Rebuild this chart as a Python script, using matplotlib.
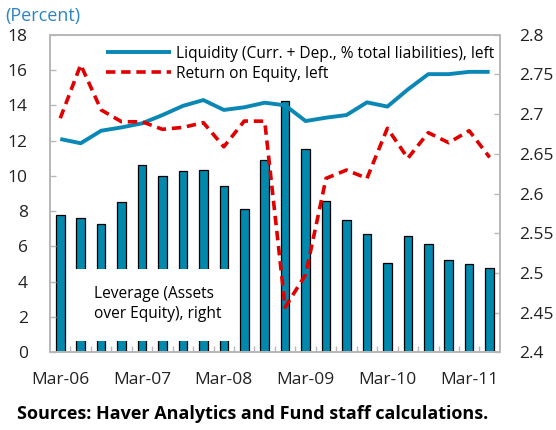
import numpy as np
import matplotlib
matplotlib.use("Agg")
import matplotlib.pyplot as plt
from matplotlib.patches import Rectangle
from matplotlib.ticker import FixedLocator, FuncFormatter

#quarterly data, Mar-06 to Jun-11
quarters = ["Mar-06", "Jun-06", "Sep-06", "Dec-06",
            "Mar-07", "Jun-07", "Sep-07", "Dec-07",
            "Mar-08", "Jun-08", "Sep-08", "Dec-08",
            "Mar-09", "Jun-09", "Sep-09", "Dec-09",
            "Mar-10", "Jun-10", "Sep-10", "Dec-10",
            "Mar-11", "Jun-11"]

#leverage, right axis
leverage = [2.573, 2.569, 2.562, 2.589, 2.636, 2.622, 2.628, 2.630,
            2.609, 2.581, 2.642, 2.717, 2.656, 2.591, 2.566, 2.549,
            2.513, 2.546, 2.536, 2.516, 2.511, 2.506]

#liquidity and ROE, left axis (percent)
liquidity = [12.09, 11.85, 12.56, 12.75, 12.98, 13.45, 13.97, 14.3,
             13.74, 13.89, 14.15, 14.0, 13.11, 13.3, 13.45, 14.17,
             13.93, 14.9, 15.77, 15.77, 15.9, 15.9]
roe = [13.27, 16.3, 13.74, 13.07, 13.07, 12.64, 12.75, 13.02,
       11.65, 13.11, 13.1, 2.55, 4.4, 9.86, 10.33, 9.86,
       12.7, 11.0, 12.45, 11.88, 12.56, 11.05]

plt.rcParams["font.family"] = ["Open Sans", "DejaVu Sans"]

fig = plt.figure(figsize=(5.56, 4.30), dpi=100)
ax = fig.add_axes([0.09, 0.181, 0.809, 0.738])
ax2 = ax.twinx()

x = np.arange(len(quarters))
grey = "#b8b8b8"

#bars on the right axis
ax2.bar(x, np.array(leverage) - 2.4, width=0.42, bottom=2.4, color="#0088ad",
        edgecolor="black", linewidth=0.9, zorder=2)
ax2.set_ylim(2.4, 2.8)
ax2.set_yticks(np.arange(2.4, 2.8001, 0.05))
ax2.yaxis.set_major_formatter(FuncFormatter(lambda v, p: f"{v:g}"))

#lines on the left axis, drawn over the bars
ax.set_zorder(ax2.get_zorder() + 1)
ax.patch.set_visible(False)
ax.plot(x, liquidity, color="#0b87b5", linewidth=2.8, solid_capstyle="butt",
        label="Liquidity (Curr. + Dep., % total liabilities), left", zorder=4)
ax.plot(x, roe, color="#e00000", linewidth=2.6, linestyle=(0, (2.6, 1.6)),
        label="Return on Equity, left", zorder=4)
ax.set_ylim(0, 18)
ax.set_yticks(range(0, 19, 2))
ax.set_xlim(-0.5, len(quarters) - 0.5)

ax.set_xticks(x[::4])
ax.set_xticklabels(quarters[::4])
ax.xaxis.set_minor_locator(FixedLocator(np.arange(0.5, len(quarters) - 0.5, 1)))

for a in (ax, ax2):
    for s in a.spines.values():
        s.set_color(grey)
        s.set_linewidth(1.3)
    a.tick_params(axis="both", which="both", direction="in", color=grey,
                  labelsize=12.5, labelcolor="#222222")
ax.tick_params(axis="x", which="major", length=0, pad=14)
ax.tick_params(axis="x", which="minor", length=4, width=1)
ax.tick_params(axis="y", length=4, width=1, pad=16)
ax2.tick_params(axis="y", length=4, width=1, pad=14)

leg = ax.legend(loc="upper left", bbox_to_anchor=(0.1, 1.0), frameon=False,
                fontsize=11.2, handlelength=4.2, handletextpad=0.3,
                labelspacing=0.25, borderaxespad=0.3)

#white box with the bar label
ax.add_patch(Rectangle((0.053, 0.035), 0.365, 0.227, transform=ax.transAxes,
                       facecolor="white", edgecolor="none", zorder=3))
ax.text(0.098, 0.151, "Leverage (Assets\nover Equity), right", transform=ax.transAxes,
        fontsize=11.2, va="center", ha="left", linespacing=1.35, zorder=5)

fig.text(0.009, 0.952, "(Percent)", color="#2b84c6", fontsize=13)
fig.text(0.03, 0.025, "Sources: Haver Analytics and Fund staff calculations.",
         fontsize=13, fontweight="bold")

fig.savefig("out.png", dpi=100)
